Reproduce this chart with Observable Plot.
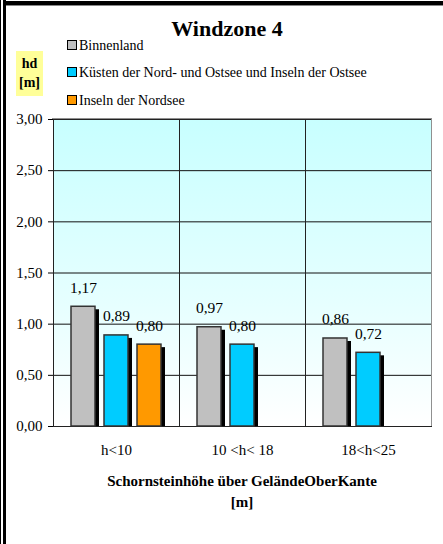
<!DOCTYPE html>
<html>
<head>
<meta charset="utf-8">
<script src="https://cdn.jsdelivr.net/npm/d3@7"></script>
<script src="https://cdn.jsdelivr.net/npm/@observablehq/plot@0.6"></script>
<style>
  body { margin: 0; background: #fff; }
  #wrap { position: relative; width: 443px; height: 544px; overflow: hidden; font-family: "Liberation Serif", "Times New Roman", "DejaVu Serif", serif; color: #000; }
  #wrap svg { position: absolute; left: 0; top: 0; }
  .abs { position: absolute; white-space: nowrap; }
  .sw { position: absolute; width: 8px; height: 8px; border: 1.5px solid #000; }
</style>
</head>
<body>
<div id="wrap">
  <div class="abs" style="left:0;top:0;width:1.4px;height:544px;background:#000"></div>
  <div class="abs" style="left:3px;top:0;width:3.4px;height:544px;background:#000"></div>
  <div class="abs" style="left:3px;top:1.3px;width:440px;height:3.7px;background:#000"></div>
  <div class="abs" style="left:6px;top:5px;width:437px;height:1px;background:#888"></div>
  <div id="title" class="abs" style="left:0;width:454px;text-align:center;top:16px;font-size:22px;font-weight:bold;">Windzone 4</div>
  <div class="abs" style="left:16px;top:51px;width:27px;height:45px;background:#ffff99;"></div>
  <div class="abs" style="left:16px;top:54px;width:27px;text-align:center;font-size:14px;font-weight:bold;line-height:19px;">hd<br>[m]</div>
  <div id="legend"></div>
  <div class="abs" style="left:52px;width:380px;text-align:center;top:471px;font-size:15px;font-weight:bold;line-height:21px;">Schornsteinhöhe über GeländeOberKante<br>[m]</div>
</div>
<script>
const categories = ["h<10", "10 <h< 18", "18<h<25"];
const seriesNames = ["Binnenland", "Küsten der Nord- und Ostsee und Inseln der Ostsee", "Inseln der Nordsee"];
const seriesColors = ["#c0c0c0", "#00ccff", "#ff9900"];
const binnenland = [1.17, 0.97, 0.86];
const kuesten = [0.89, 0.80, 0.72];
const inselnNordsee = [0.80, null, null];
const yTicks = [0, 0.5, 1, 1.5, 2, 2.5, 3];

const seriesValues = [binnenland, kuesten, inselnNordsee];
const rows = [];
categories.forEach((c, i) => {
  seriesNames.forEach((s, j) => {
    const v = seriesValues[j][i];
    if (v != null) rows.push({cat: c, series: s, value: v});
  });
});
const fmt = d => d.toFixed(2).replace(".", ",");

const chart = Plot.plot({
  width: 443,
  height: 544,
  marginTop: 119,
  marginBottom: 118,
  marginLeft: 52,
  marginRight: 11,
  style: {fontFamily: "Liberation Serif, Times New Roman, serif", fontSize: "15px", background: "transparent", color: "#000"},
  fx: {domain: categories, padding: 0, label: null, axis: "bottom", tickSize: 0, tickPadding: 18},
  x: {domain: seriesNames, paddingInner: 0.28, paddingOuter: 0.54, axis: null},
  y: {domain: [0, 3], ticks: yTicks, tickFormat: fmt, label: null, tickSize: 5, tickPadding: 6},
  color: {domain: seriesNames, range: seriesColors},
  marks: [
    Plot.frame({fill: "url(#bgGrad)", stroke: "none"}),
    Plot.ruleY(yTicks, {stroke: "#111", strokeWidth: 1}),
    Plot.frame({stroke: "#222", strokeWidth: 1}),
    Plot.barY(rows, {fx: "cat", x: "series", y: "value", fill: "#000", dx: 4, insetTop: 3}),
    Plot.barY(rows, {fx: "cat", x: "series", y: "value", fill: "series", stroke: "#333", strokeWidth: 1.5}),
    Plot.text(rows, {fx: "cat", x: "series", y: "value", text: d => fmt(d.value), dy: -19, fontSize: 15.5, fill: "#000"})
  ]
});

const svg = chart.tagName.toLowerCase() === "svg" ? chart : chart.querySelector("svg");
d3.select(svg).insert("defs", ":first-child").html(
  '<linearGradient id="bgGrad" x1="0" y1="0" x2="0" y2="1">' +
  '<stop offset="0" stop-color="#c8ffff"/><stop offset="0.6" stop-color="#e6ffff"/><stop offset="1" stop-color="#ffffff"/></linearGradient>'
);
document.getElementById("wrap").appendChild(chart);

// grey plot-area border on top and right, as in the reference
const border = document.createElement("div");
border.className = "abs";
border.style.cssText = "left:52px;top:118px;width:379px;height:307px;border-top:1.5px solid #909090;border-right:1.5px solid #909090;";
document.getElementById("wrap").appendChild(border);

const legendTops = [38, 65, 93];
const legend = document.getElementById("legend");
seriesNames.forEach((s, i) => {
  const sw = document.createElement("div");
  sw.className = "sw";
  sw.style.left = "67px";
  sw.style.top = (legendTops[i] + 2) + "px";
  sw.style.background = seriesColors[i];
  legend.appendChild(sw);
  const t = document.createElement("div");
  t.className = "abs";
  t.style.left = "79px";
  t.style.top = legendTops[i] + "px";
  t.style.fontSize = "14px";
  t.textContent = s;
  legend.appendChild(t);
});
</script>
</body>
</html>
